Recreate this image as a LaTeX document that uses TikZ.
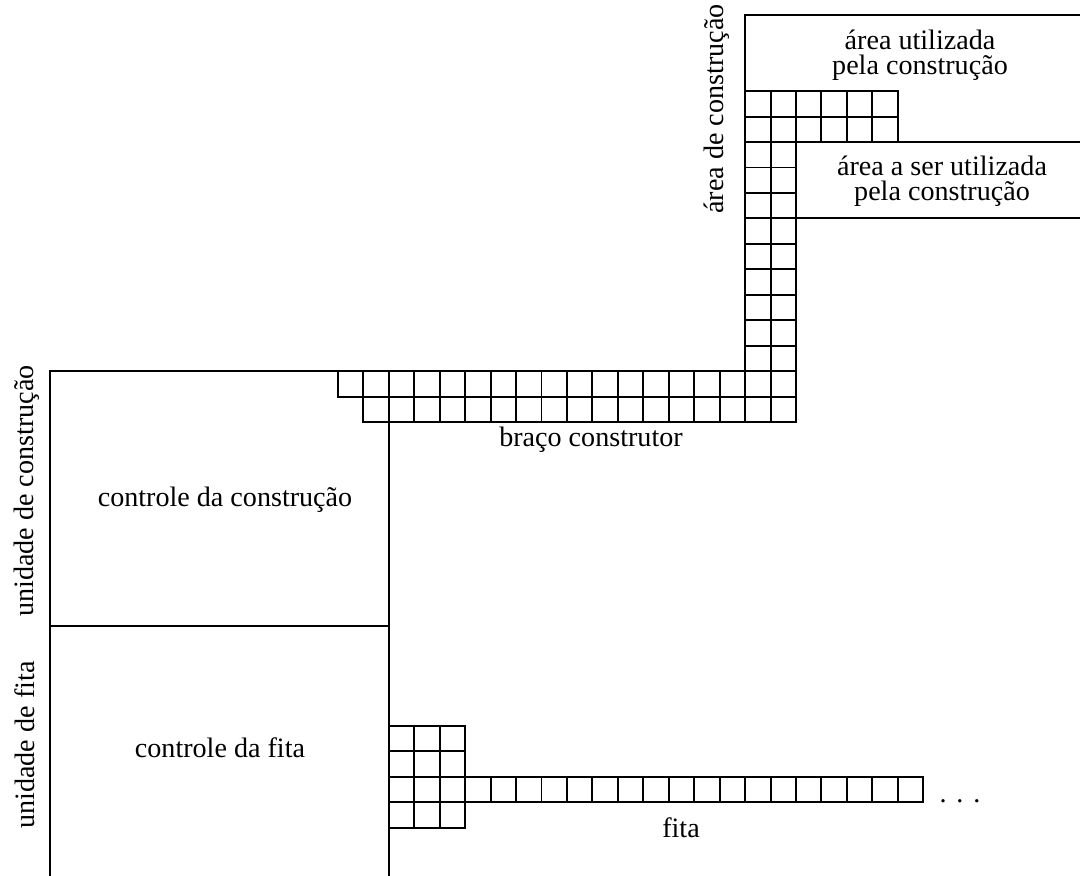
\documentclass[tikz,border=0pt]{standalone}
\usepackage{fontspec}
\setmainfont{Liberation Serif}
\usetikzlibrary{positioning}
\newcommand{\cellsize}{25.45}
\newcommand{\gridline}{1.1pt}

\begin{document}
\begin{tikzpicture}[x=0.02cm, y=-0.02cm, line width=\gridline,
    txt/.style={font=\fontsize{16}{14}\selectfont, align=center, inner sep=0pt},
    sidetxt/.style={txt, rotate=90}]
        \useasboundingbox (0,0) rectangle (1080,876);
        % unidade de construcao / unidade de fita
        \draw (50,876) -- (50,371.1) -- (337.9,371.1);
        \draw (388.8,422) -- (388.8,876);
        \draw (50,626) -- (388.8,626);
        % area de construcao
        \draw (745.1,91.15) -- (745.1,15) -- (1080,15);
        \draw (897.8,142.05) -- (1080,142.05);
        \draw (796,218.4) -- (1080,218.4);
        % braco construtor
        \foreach \i in {0,...,17}
            \draw (337.9+\i*\cellsize,371.1) rectangle ++(\cellsize,\cellsize);
        \foreach \i in {0,...,16}
            \draw (363.35+\i*\cellsize,396.55) rectangle ++(\cellsize,\cellsize);
        \foreach \i in {0,1}
            \foreach \j in {0,...,12}
                \draw (745.1+\i*\cellsize,91.15+\j*\cellsize) rectangle ++(\cellsize,\cellsize);
        \foreach \i in {2,...,5}
            \foreach \j in {0,1}
                \draw (745.1+\i*\cellsize,91.15+\j*\cellsize) rectangle ++(\cellsize,\cellsize);
        % fita
        \foreach \i in {0,1,2}
            \foreach \j in {0,...,3}
                \draw (388.8+\i*\cellsize,726+\j*\cellsize) rectangle ++(\cellsize,\cellsize);
        \foreach \i in {3,...,20}
            \draw (388.8+\i*\cellsize,776.9) rectangle ++(\cellsize,\cellsize);

        \node[txt] (ctrlconstr) at (225,500) {controle da construção};
        \node[txt] (ctrlfita) at (220,748) {controle da fita};
        \node[txt] (braco) at (591,440) {braço construtor};
        \node[txt] (fita) at (681,828) {fita};
        \node[txt, anchor=base] (dots) at (960,802) {.\hspace{0.35em}.\hspace{0.35em}.};
        \node[sidetxt] (unidconstr) at (27,491) {unidade de construção};
        \node[sidetxt] (unidfita) at (25,745) {unidade de fita};
        \node[sidetxt] (areaconstr) at (717,109) {área de construção};
        \node[txt] (areausada) at (920,55) {área utilizada\\pela construção};
        \node[txt] (areaausar) at (942,181) {área a ser utilizada\\pela construção};
    \end{tikzpicture}
\end{document}
